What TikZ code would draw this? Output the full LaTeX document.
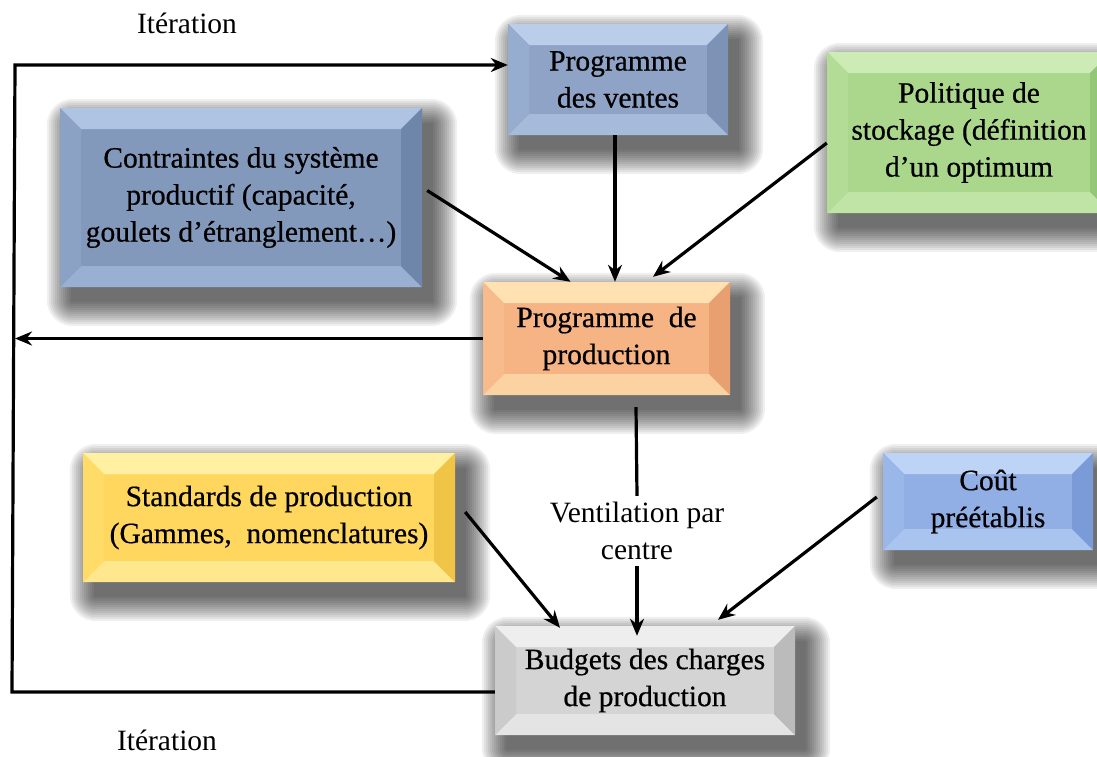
\documentclass[tikz,border=0pt]{standalone}
\usepackage{fontspec}
\setmainfont{Liberation Serif}
\newfontfamily\boxfont{Liberation Serif}[FakeBold=0.6]
\usetikzlibrary{arrows.meta,backgrounds}
\definecolor{pvF}{HTML}{8EA3C6}\definecolor{pvT}{HTML}{BACDE9}\definecolor{pvB}{HTML}{A6BBDA}\definecolor{pvL}{HTML}{97ADCF}\definecolor{pvR}{HTML}{7D93B6}
\definecolor{ctF}{HTML}{8399BC}\definecolor{ctT}{HTML}{AFC3E2}\definecolor{ctB}{HTML}{9AB0D2}\definecolor{ctL}{HTML}{8CA2C5}\definecolor{ctR}{HTML}{6F86AB}
\definecolor{poF}{HTML}{AAD78C}\definecolor{poT}{HTML}{CDEBB5}\definecolor{poB}{HTML}{C0E4A6}\definecolor{poL}{HTML}{B3DC96}\definecolor{poR}{HTML}{93C676}
\definecolor{ppF}{HTML}{F6B383}\definecolor{ppT}{HTML}{FFE1B2}\definecolor{ppB}{HTML}{FBD2A2}\definecolor{ppL}{HTML}{F8BC8C}\definecolor{ppR}{HTML}{E9A070}
\definecolor{stF}{HTML}{FFD75E}\definecolor{stT}{HTML}{FFF0A2}\definecolor{stB}{HTML}{FFE78E}\definecolor{stL}{HTML}{FFDC68}\definecolor{stR}{HTML}{F0C446}
\definecolor{coF}{HTML}{91AFE5}\definecolor{coT}{HTML}{BDD4F6}\definecolor{coB}{HTML}{AAC4F0}\definecolor{coL}{HTML}{9AB7EA}\definecolor{coR}{HTML}{7B9AD8}
\definecolor{buF}{HTML}{D4D4D4}\definecolor{buT}{HTML}{EEEEEE}\definecolor{buB}{HTML}{E4E4E4}\definecolor{buL}{HTML}{CBCBCB}\definecolor{buR}{HTML}{BBBBBB}
\newcommand{\bvw}{21pt}
\newcommand{\boxshadow}[1]{%
  \begin{pgfonlayer}{background}
  \foreach \i in {0,...,12}{%
    \pgfmathsetmacro\rr{2*\i}%
    \fill[black, opacity=0.06, rounded corners={(\rr+2)*1pt}]
      ([shift={({(11-\rr)*1pt},{(-15-\rr)*1pt})}]#1.south west) rectangle
      ([shift={({(11+\rr)*1pt},{(-15+\rr)*1pt})}]#1.north east);
  }%
  \end{pgfonlayer}}
\tikzset{
  txt/.style={font=\fontsize{29.5}{37}\selectfont, align=center, inner sep=0pt},
  bevelbox/.style n args={5}{txt, font=\boxfont\fontsize{29.5}{37}\selectfont, text=black, fill=#1, draw=none,
    path picture={
      \fill[#2] (path picture bounding box.north west) -- (path picture bounding box.north east)
        -- ([shift={(-\bvw,-\bvw)}]path picture bounding box.north east) -- ([shift={(\bvw,-\bvw)}]path picture bounding box.north west) -- cycle;
      \fill[#3] (path picture bounding box.south west) -- (path picture bounding box.south east)
        -- ([shift={(-\bvw,\bvw)}]path picture bounding box.south east) -- ([shift={(\bvw,\bvw)}]path picture bounding box.south west) -- cycle;
      \fill[#4] (path picture bounding box.north west) -- (path picture bounding box.south west)
        -- ([shift={(\bvw,\bvw)}]path picture bounding box.south west) -- ([shift={(\bvw,-\bvw)}]path picture bounding box.north west) -- cycle;
      \fill[#5] (path picture bounding box.north east) -- (path picture bounding box.south east)
        -- ([shift={(-\bvw,\bvw)}]path picture bounding box.south east) -- ([shift={(-\bvw,-\bvw)}]path picture bounding box.north east) -- cycle;
    }},
  arr/.style={line width=3.2pt, -{Stealth[length=17pt,width=14pt]}},
  ln/.style={line width=3.2pt}
}
\begin{document}
\begin{tikzpicture}[x=1pt,y=-1pt]
\useasboundingbox (0,0) rectangle (1097,756);
\begin{pgfonlayer}{background}
\fill[white] (-50,-50) rectangle (1150,800);
\end{pgfonlayer}
% boxes
\node[bevelbox={pvF}{pvT}{pvB}{pvL}{pvR}, minimum width=220pt, minimum height=111pt] (pv) at (618,79.5) {Programme\\des ventes};
\node[bevelbox={ctF}{ctT}{ctB}{ctL}{ctR}, minimum width=362pt, minimum height=179pt] (ct) at (241,197.5) {Contraintes du système\\productif (capacité,\\goulets d’étranglement…)};
\node[bevelbox={poF}{poT}{poB}{poL}{poR}, minimum width=284pt, minimum height=161pt] (po) at (969,132.5) {Politique de\\stockage (définition\\d’un optimum};
\node[bevelbox={ppF}{ppT}{ppB}{ppL}{ppR}, minimum width=247pt, minimum height=113pt] (pp) at (606.5,338.5) {Programme\enspace de\\production};
\node[bevelbox={stF}{stT}{stB}{stL}{stR}, minimum width=372pt, minimum height=129pt] (st) at (269,517.5) {Standards de production\\(Gammes,\enspace nomenclatures)};
\node[bevelbox={coF}{coT}{coB}{coL}{coR}, minimum width=210pt, minimum height=97pt] (co) at (988,501.5) {Coût\\préétablis};
\node[bevelbox={buF}{buT}{buB}{buL}{buR}, minimum width=300pt, minimum height=109pt] (bu) at (645,680.5) {Budgets des charges\\de production};
\boxshadow{pv}\boxshadow{ct}\boxshadow{po}\boxshadow{pp}\boxshadow{st}\boxshadow{co}\boxshadow{bu}
% labels
\node[txt] (it1) at (187,23) {Itération};
\node[txt] (it2) at (167,740) {Itération};
\node[txt, inner sep=6pt] (vent) at (637,531) {Ventilation par\\centre};
% loop
\coordinate (lbl) at (12,692);
\coordinate (ltl) at (15,65);
\draw[arr] ([yshift=-11.5pt]bu.west) -- (lbl) -- (ltl) -- ([yshift=14.5pt]pv.west);
\draw[arr] (pp.west) -- (pp.west -| ltl);
% arrows into pp
\draw[arr] ([xshift=5pt,yshift=7pt]ct.east) -- ([xshift=-36pt]pp.north);
\draw[arr] ([xshift=-3pt]pv.south) -- ([xshift=-3pt]pv.south |- pp.north);
\draw[arr] ([yshift=-10.5pt]po.west) -- ([xshift=46.5pt,yshift=5pt]pp.north);
% arrows into budgets
\draw[ln] ([xshift=29.5pt,yshift=-12pt]pp.south) -- (vent.north);
\draw[arr] (vent.south) -- ([yshift=-10pt]vent.south |- bu.north);
\draw[arr] ([xshift=10pt,yshift=5.5pt]st.east) -- ([xshift=-85pt,yshift=-2pt]bu.north);
\draw[arr] ([xshift=-6pt,yshift=4.5pt]co.west) -- ([xshift=73pt,yshift=6pt]bu.north);
\end{tikzpicture}
\end{document}
